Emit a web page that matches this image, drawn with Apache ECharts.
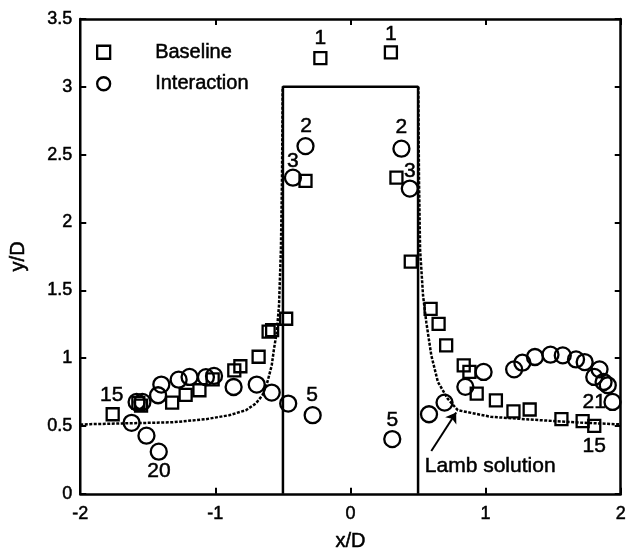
<!DOCTYPE html>
<html>
<head>
<meta charset="utf-8">
<script src="https://cdn.jsdelivr.net/npm/echarts@6/dist/echarts.min.js"></script>
<style>
html,body{margin:0;padding:0;background:#fff;}
#chart{width:629px;height:557px;}
</style>
</head>
<body>
<div id="chart"></div>
<script>
// ---- data ----
var baselineX = [-1.76,-1.57,-1.55,-1.32,-1.22,-1.118,-1.02,-0.86,-0.815,-0.68,-0.606,-0.58,-0.476,-0.333,-0.223,0.299,0.34,0.446,0.593,0.652,0.708,0.838,0.88,0.934,1.076,1.206,1.326,1.561,1.718,1.804];
var baselineY = [0.586,0.67,0.65,0.672,0.729,0.763,0.843,0.91,0.94,1.01,1.195,1.207,1.29,2.306,3.212,3.254,2.33,1.711,1.363,1.253,1.094,0.946,0.898,0.738,0.689,0.608,0.621,0.55,0.535,0.501];

var interactionX = [-1.62,-1.51,-1.419,-1.583,-1.54,-1.424,-1.40,-1.272,-1.191,-1.07,-1.01,-0.865,-0.694,-0.583,-0.461,-0.28,-0.333,-0.426,0.377,0.439,0.309,0.581,0.696,0.85,0.985,1.211,1.272,1.365,1.48,1.571,1.669,1.733,1.843,1.804,1.873,1.904,1.939];
var interactionY = [0.523,0.428,0.31,0.677,0.677,0.726,0.805,0.841,0.861,0.86,0.869,0.787,0.805,0.746,0.665,0.579,2.563,2.33,2.544,2.25,0.403,0.586,0.672,0.788,0.898,0.917,0.966,1.008,1.025,1.02,0.99,0.971,0.917,0.861,0.824,0.8,0.677];

var lambLeftX = [-2.0,-1.926,-1.62,-1.314,-1.069,-0.897,-0.774,-0.701,-0.652,-0.615,-0.583,-0.566,-0.546,-0.529,-0.515,-0.507,-0.504,-0.502];
var lambLeftY = [0.51,0.513,0.52,0.527,0.55,0.579,0.616,0.665,0.726,0.824,0.946,1.069,1.19,1.387,1.8,2.32,2.7,3.0];
var lambRightX = [0.502,0.504,0.507,0.515,0.537,0.561,0.598,0.647,0.72,0.794,1.039,1.407,1.7,2.0];
var lambRightY = [3.0,2.7,2.32,1.8,1.46,1.265,1.02,0.824,0.70,0.616,0.567,0.542,0.525,0.511];

var bodyX = [-0.5,-0.5,0.5,0.5];
var bodyY = [0,3,3,0];

var pointLabelText = ['1','1','2','3','2','3','5','5','15','20','21','15'];
var pointLabelX = [-0.223,0.299,-0.329,-0.426,0.377,0.439,-0.285,0.309,-1.767,-1.417,1.804,1.804];
var pointLabelY = [3.36,3.39,2.71,2.45,2.70,2.38,0.726,0.542,0.726,0.163,0.677,0.354];

var arrowFrom = [0.598,0.315];
var arrowTo = [0.782,0.599];
var noteText = 'Lamb solution';
var notePos = [0.55,0.2];

var xTicks = [-2,-1,0,1,2];
var yTicks = [0,0.5,1,1.5,2,2.5,3,3.5];

function zip(a,b){return a.map(function(v,i){return [v,b[i]];});}

var FONT = 'Liberation Sans, Arial, sans-serif';
var TB = {textBorderColor:'#000',textBorderWidth:0.5};
function ts(size){return Object.assign({fontFamily:FONT,fontSize:size,color:'#000'},TB);}
var chart = echarts.init(document.getElementById('chart'), null, {renderer:'canvas'});
var axisCommon = {
  axisLine:{show:true,onZero:false,lineStyle:{color:'#000',width:2.5}},
  axisTick:{show:true,inside:true,length:6,lineStyle:{color:'#000',width:2}},
  splitLine:{show:false}
};
var markerStyle = {color:'transparent',borderColor:'#000',borderWidth:2.3,opacity:1};
var option = {
  animation:false,
  backgroundColor:'#fff',
  grid:{left:80,right:5,top:19,bottom:61.5,containLabel:false},
  legend:{
    show:true, orient:'vertical', left:91, top:37, itemWidth:13, itemHeight:13, itemGap:11,
    data:['Baseline','Interaction'],
    textStyle:Object.assign(ts(20),{padding:[0,0,0,40]}),
    itemStyle:{borderWidth:2.3,borderColor:'#000',color:'transparent',opacity:1}
  },
  xAxis:[
    Object.assign({type:'value',min:xTicks[0],max:xTicks[xTicks.length-1],interval:1,position:'bottom',
      name:'x/D',nameLocation:'middle',nameGap:38,
      nameTextStyle:ts(20),
      axisLabel:Object.assign({show:true,margin:11},ts(18))},axisCommon),
    Object.assign({type:'value',min:xTicks[0],max:xTicks[xTicks.length-1],interval:1,position:'top',
      axisLabel:{show:false}},axisCommon)
  ],
  yAxis:[
    Object.assign({type:'value',min:yTicks[0],max:yTicks[yTicks.length-1],interval:0.5,position:'left',
      name:'y/D',nameLocation:'middle',nameGap:52,
      nameTextStyle:ts(20),
      axisLabel:Object.assign({show:true,margin:8},ts(18))},axisCommon),
    Object.assign({type:'value',min:yTicks[0],max:yTicks[yTicks.length-1],interval:0.5,position:'right',
      axisLabel:{show:false}},axisCommon)
  ],
  series:[
    {name:'Baseline',type:'scatter',data:zip(baselineX,baselineY),symbol:'rect',symbolSize:12,
      itemStyle:markerStyle,z:5},
    {name:'Interaction',type:'scatter',data:zip(interactionX,interactionY),symbol:'circle',symbolSize:16,
      itemStyle:markerStyle,z:5},
    {name:'lambL',type:'line',data:zip(lambLeftX,lambLeftY),showSymbol:false,symbol:'none',
      lineStyle:{color:'#000',width:2.5,type:[3,1.5]},z:3},
    {name:'lambR',type:'line',data:zip(lambRightX,lambRightY),showSymbol:false,symbol:'none',
      lineStyle:{color:'#000',width:2.5,type:[3,1.5]},z:3},
    {name:'body',type:'line',data:zip(bodyX,bodyY),showSymbol:false,symbol:'none',
      lineStyle:{color:'#000',width:2.5},z:4},
    {name:'labels',type:'scatter',symbolSize:0,silent:true,itemStyle:{opacity:1},
      data:pointLabelX.map(function(x,i){return {value:[x,pointLabelY[i]],name:pointLabelText[i]};}),
      label:Object.assign({show:true,position:'inside',formatter:'{b}'},ts(21)),z:6},
    {name:'note',type:'scatter',symbolSize:0,silent:true,itemStyle:{opacity:1},
      data:[{value:notePos,name:noteText}],
      label:Object.assign({show:true,position:'right',distance:0,formatter:'{b}'},ts(21)),z:6},
    {name:'arrow',type:'lines',coordinateSystem:'cartesian2d',symbol:['none','arrow'],symbolSize:10,
      data:[{coords:[arrowFrom,arrowTo]}],lineStyle:{color:'#000',width:2,opacity:1},z:6}
  ]
};
chart.setOption(option);
</script>
</body>
</html>
